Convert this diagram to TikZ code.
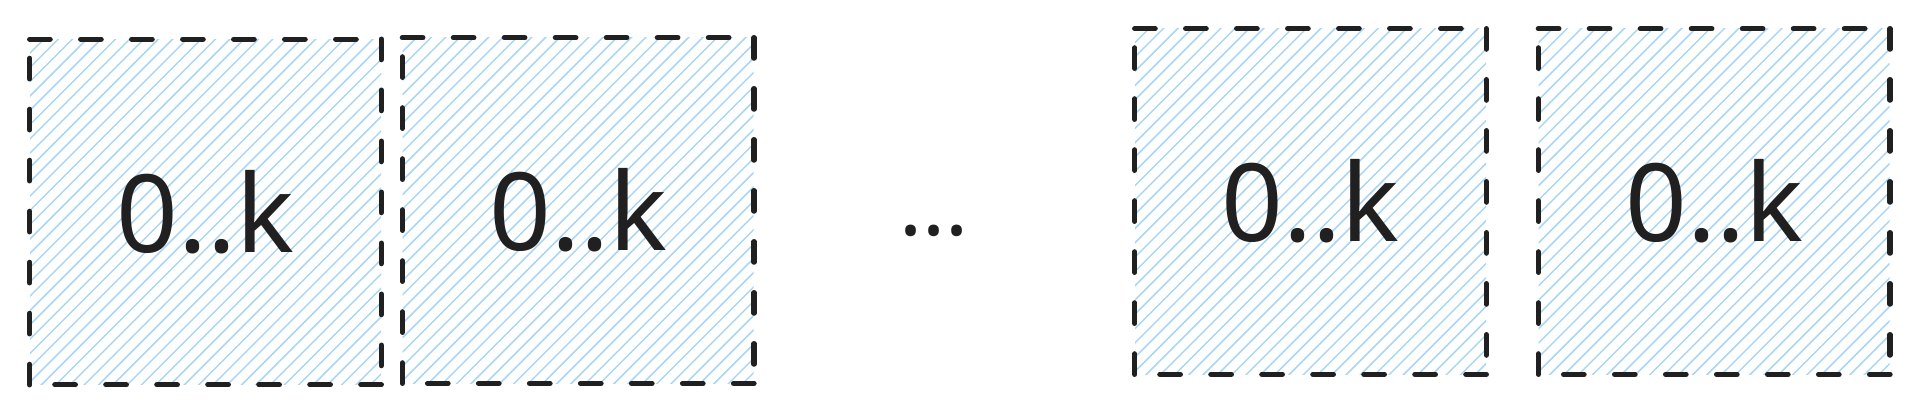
\documentclass[tikz,border=0pt]{standalone}
\usepackage{fontspec}
\setmainfont{Noto Sans}
\usepackage{tikz}
\usetikzlibrary{positioning}
\usepackage{xcolor}
\definecolor{hatchblue}{HTML}{A9D6F5}
\definecolor{inkdark}{HTML}{202020}

\begin{document}
\begin{tikzpicture}[
    hatch/.style={path picture={
        \foreach \i in {-50,...,50}
          \draw[hatchblue, line width=0.03cm, solid, line cap=butt,
            shift={(path picture bounding box.center)}]
            (\i*0.286-5, -5) -- ++(10, 10);
      }},
    slot/.style={hatch, minimum width=7.02cm, minimum height=6.9cm,
      inner sep=0pt, text=inkdark, font=\fontsize{61.5}{70}\selectfont},
    border/.style={draw=inkdark, line width=0.105cm, line cap=round,
      dash pattern=on 0.41cm off 0.61cm},
    gapdots/.style={text=inkdark, font=\fontsize{49}{56}\selectfont,
      inner sep=0pt, anchor=base},
  ]
  \useasboundingbox (0,0) rectangle (38.36,8.28);
  % first two slots
  \node[slot] (s1) at (4.11, 4.04) {0..k};
  \node[slot, right=0.42cm of s1, yshift=0.03cm] (s2) {0..k};
  % gap
  \node[gapdots] (gap) at (18.68, 3.56) {...};
  % last two slots
  \node[slot] (s3) at (26.21, 4.25) {0..k};
  \node[slot, right=1.04cm of s3] (s4) {0..k};

  % dashed outlines, each side starts its own dash, clockwise
  \foreach \s in {s1,s2,s3,s4}
    \draw[border] (\s.north west) -- (\s.north east)
      (\s.north east) -- (\s.south east)
      (\s.south east) -- (\s.south west)
      (\s.south west) -- (\s.north west);
\end{tikzpicture}
\end{document}
